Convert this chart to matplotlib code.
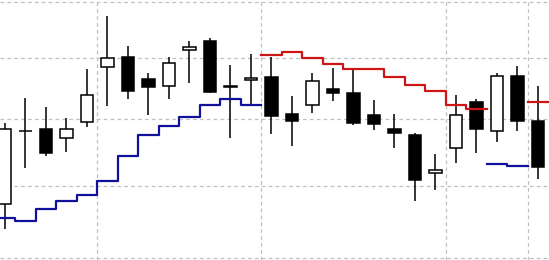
import numpy as np
import matplotlib
matplotlib.use("Agg")
import matplotlib.pyplot as plt

# OHLC data
opens  = [107.4, 118.2, 118.5, 117.1, 119.5, 128.5, 130.2, 126.6, 125.4, 131.4,
          133.0, 125.3, 126.4, 126.9, 120.8, 122.3, 124.9, 124.3, 120.7, 118.5,
          117.6, 111.8, 115.5, 122.8, 118.2, 127.1, 119.7]
highs  = [119.4, 123.4, 122.0, 120.2, 128.2, 137.5, 132.1, 127.5, 130.2, 133.0,
          133.5, 128.9, 130.7, 130.2, 123.8, 127.5, 128.4, 128.0, 123.1, 120.8,
          117.9, 114.7, 123.9, 123.3, 127.5, 128.7, 125.3]
lows   = [103.9, 112.6, 114.4, 115.0, 118.8, 122.1, 123.3, 120.7, 123.3, 125.9,
          124.3, 117.1, 122.3, 117.7, 115.9, 121.0, 123.0, 119.1, 118.3, 115.5,
          107.8, 109.3, 113.3, 114.8, 116.5, 118.2, 110.9]
closes = [118.5, 118.2, 114.8, 118.5, 123.9, 130.0, 124.6, 125.2, 129.2, 131.9,
          124.4, 125.2, 126.7, 120.5, 119.7, 126.2, 124.3, 119.4, 119.2, 117.9,
          110.8, 112.3, 120.7, 118.5, 127.1, 119.7, 112.7]

nan = np.nan
# lower (blue) and upper (red) step lines
lower_line = [105.4, 105.0, 106.6, 107.8, 108.6, 110.6, 114.4, 117.6, 119.0, 120.4,
              122.3, 123.2, 122.3, nan, nan, nan, nan, nan, nan, nan,
              nan, nan, nan, nan, 113.2, 112.9, nan]
upper_line = [nan, nan, nan, nan, nan, nan, nan, nan, nan, nan,
              nan, nan, nan, 130.5, 131.1, 130.05, 129.1, 128.25, 128.25, 126.9,
              125.5, 124.5, 122.2, 121.6, nan, nan, 122.7]

# grid positions
vgrid = [4.5, 12.5, 21.5, 25.5]
hgrid = [100, 110, 120, 130, 140]

fig = plt.figure(figsize=(5.49, 2.60), dpi=100)
ax = fig.add_axes([0, 0, 1, 1])
ax.set_yscale('log')

n = len(opens)
x = np.arange(n)
o = np.array(opens); c = np.array(closes)
h = np.array(highs); l = np.array(lows)
up = c >= o

# grid
for gx in vgrid:
    ax.axvline(gx, color='#c0c0c0', lw=0.9, ls=(0, (3, 2.5)), zorder=0)
for gy in hgrid:
    ax.axhline(gy, color='#c0c0c0', lw=0.9, ls=(0, (3, 2.5)), zorder=0)

# wicks
ax.vlines(x, l, h, color='black', lw=1.1, zorder=2)
# bodies
bottoms = np.minimum(o, c)
heights = np.abs(c - o)
ax.bar(x, heights, bottom=bottoms, width=0.62,
       color=np.where(up, 'white', 'black'), edgecolor='black', lw=1.1, zorder=3)

# step lines
edges = np.arange(n + 1) - 0.5
lw_vals = np.array(lower_line + [lower_line[-1]], dtype=float)
up_vals = np.array(upper_line + [upper_line[-1]], dtype=float)
ax.step(edges, lw_vals, where='post', color='#10109a', lw=1.6, zorder=4)
ax.step(edges, up_vals, where='post', color='#cc1515', lw=1.6, zorder=4)

ax.set_xlim(-0.244, 26.54)
ax.set_ylim(99.74, 140.37)
ax.set_axis_off()

fig.savefig('out.png', dpi=100)
